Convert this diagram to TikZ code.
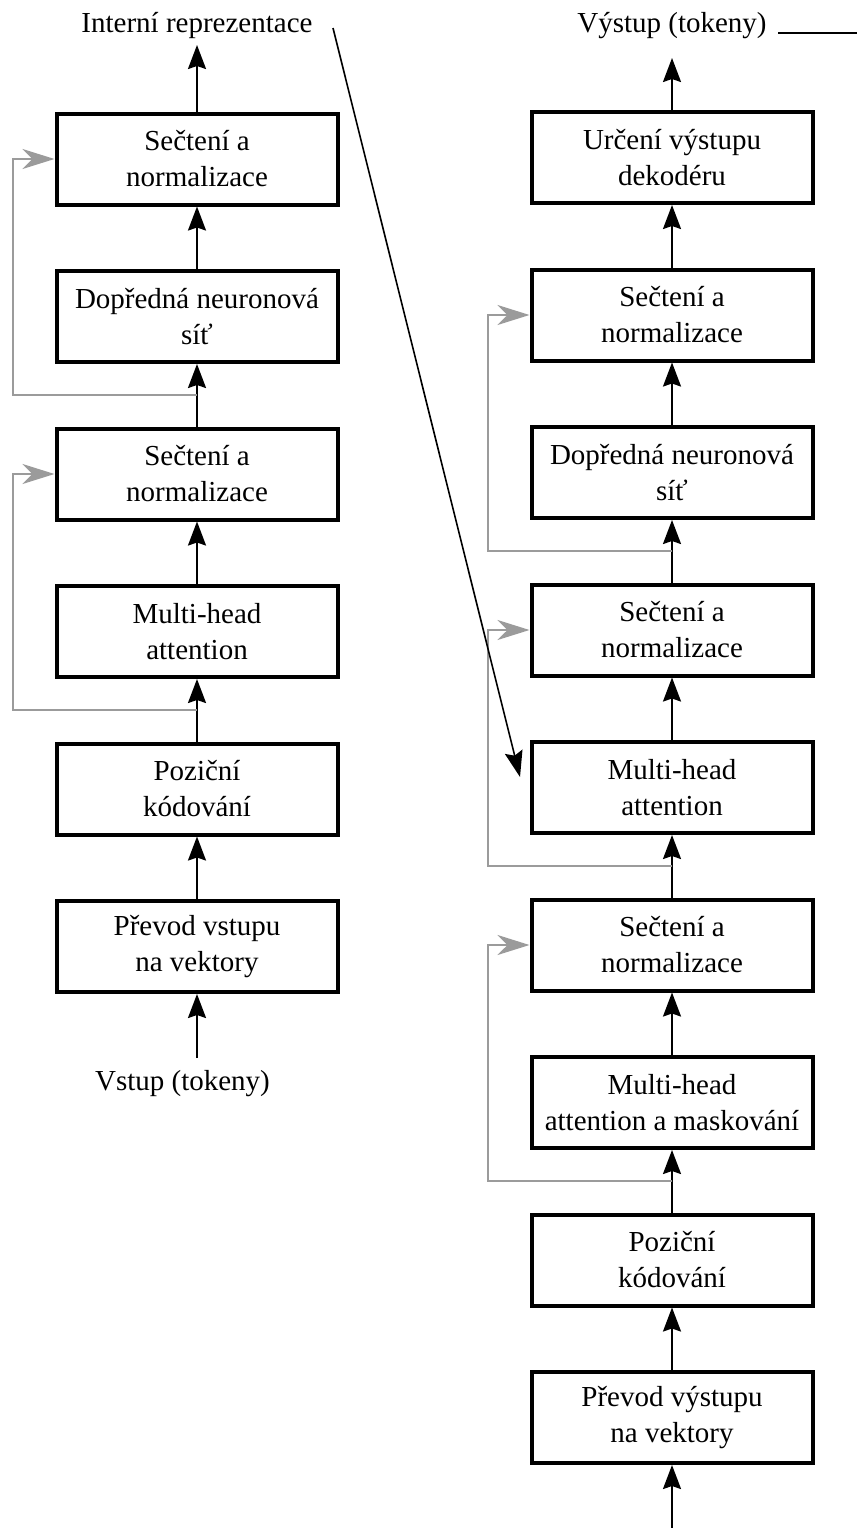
\documentclass[tikz,border=0pt]{standalone}
\usepackage{fontspec}
\setmainfont{Liberation Serif}
\usetikzlibrary{arrows.meta,calc}
\definecolor{skipgray}{RGB}{155,155,155}
\tikzset{
  block/.style={draw, line width=4pt, minimum width=281pt, minimum height=91pt,
    align=center, inner sep=0pt, font=\fontsize{29}{36}\selectfont},
  flow/.style={line width=2pt, -{Stealth[length=24pt,width=18pt,inset=3pt]}},
  skip/.style={draw=skipgray, line width=2pt, -{Stealth[length=32pt,width=20pt,inset=10pt]}},
  cross/.style={line width=1.6pt, -{Stealth[length=26pt,width=18pt,inset=4pt]}},
  lbl/.style={anchor=base, inner sep=0pt, font=\fontsize{29}{36}\selectfont},
}
\begin{document}
\begin{tikzpicture}[x=1pt,y=-1pt]
\useasboundingbox (0,0) rectangle (857,1528);

% encoder
\node[block] (L1) at (197,159)    {Sečtení a\\normalizace};
\node[block] (L2) at (197,316.5)  {Dopředná neuronová\\síť};
\node[block] (L3) at (197,474)    {Sečtení a\\normalizace};
\node[block] (L4) at (197,631.5)  {Multi-head\\attention};
\node[block] (L5) at (197,789)    {Poziční\\kódování};
\node[block] (L6) at (197,946.5)  {Převod vstupu\\na vektory};

% decoder
\node[block] (R1) at (672,157.5)  {Určení výstupu\\dekodéru};
\node[block] (R2) at (672,315)    {Sečtení a\\normalizace};
\node[block] (R3) at (672,472.5)  {Dopředná neuronová\\síť};
\node[block] (R4) at (672,630)    {Sečtení a\\normalizace};
\node[block] (R5) at (672,787.5)  {Multi-head\\attention};
\node[block] (R6) at (672,945)    {Sečtení a\\normalizace};
\node[block] (R7) at (672,1102.5) {Multi-head\\attention a maskování};
\node[block] (R8) at (672,1260)   {Poziční\\kódování};
\node[block] (R9) at (672,1417.5) {Převod výstupu\\na vektory};

% labels
\node[lbl] (IR)  at (197,33)    {Interní reprezentace};
\node[lbl] (VY)  at (672,33)    {Výstup (tokeny)};
\node[lbl] (VS)  at (182.5,1090) {Vstup (tokeny)};

% free ends
\coordinate (irtip) at (197,45);
\coordinate (vytip) at (672,58);
\coordinate (vin)   at (197,1058);
\coordinate (vout)  at (672,1528);
\coordinate (lx)    at (13,0);
\coordinate (rx)    at (488,0);
\coordinate (d0)    at (333,28);
\coordinate (d1)    at (520,777);
\coordinate (o0)    at (778,33);
\coordinate (o1)    at (857,33);

% main flow, encoder
\draw[flow] (vin) -- (L6.south);
\draw[flow] (L6.north) -- (L5.south);
\draw[flow] (L5.north) -- (L4.south);
\draw[flow] (L4.north) -- (L3.south);
\draw[flow] (L3.north) -- (L2.south);
\draw[flow] (L2.north) -- (L1.south);
\draw[flow] (L1.north) -- (irtip);

% main flow, decoder
\draw[flow] (vout) -- (R9.south);
\draw[flow] (R9.north) -- (R8.south);
\draw[flow] (R8.north) -- (R7.south);
\draw[flow] (R7.north) -- (R6.south);
\draw[flow] (R6.north) -- (R5.south);
\draw[flow] (R5.north) -- (R4.south);
\draw[flow] (R4.north) -- (R3.south);
\draw[flow] (R3.north) -- (R2.south);
\draw[flow] (R2.north) -- (R1.south);
\draw[flow] (R1.north) -- (vytip);

% residual connections
\coordinate (g1) at ($(L4.south)!.5!(L5.north)$);
\coordinate (g2) at ($(L2.south)!.5!(L3.north)$);
\coordinate (g3) at ($(R7.south)!.5!(R8.north)$);
\coordinate (g4) at ($(R5.south)!.5!(R6.north)$);
\coordinate (g5) at ($(R3.south)!.5!(R4.north)$);
\draw[skip] (g1) -- (g1 -| lx) |- (L3.west);
\draw[skip] (g2) -- (g2 -| lx) |- (L1.west);
\draw[skip] (g3) -- (g3 -| rx) |- (R6.west);
\draw[skip] (g4) -- (g4 -| rx) |- (R4.west);
\draw[skip] (g5) -- (g5 -| rx) |- (R2.west);

% encoder output into decoder attention
\draw[cross] (d0) -- (d1);
\draw[line width=1.6pt] (o0) -- (o1);
\end{tikzpicture}
\end{document}
